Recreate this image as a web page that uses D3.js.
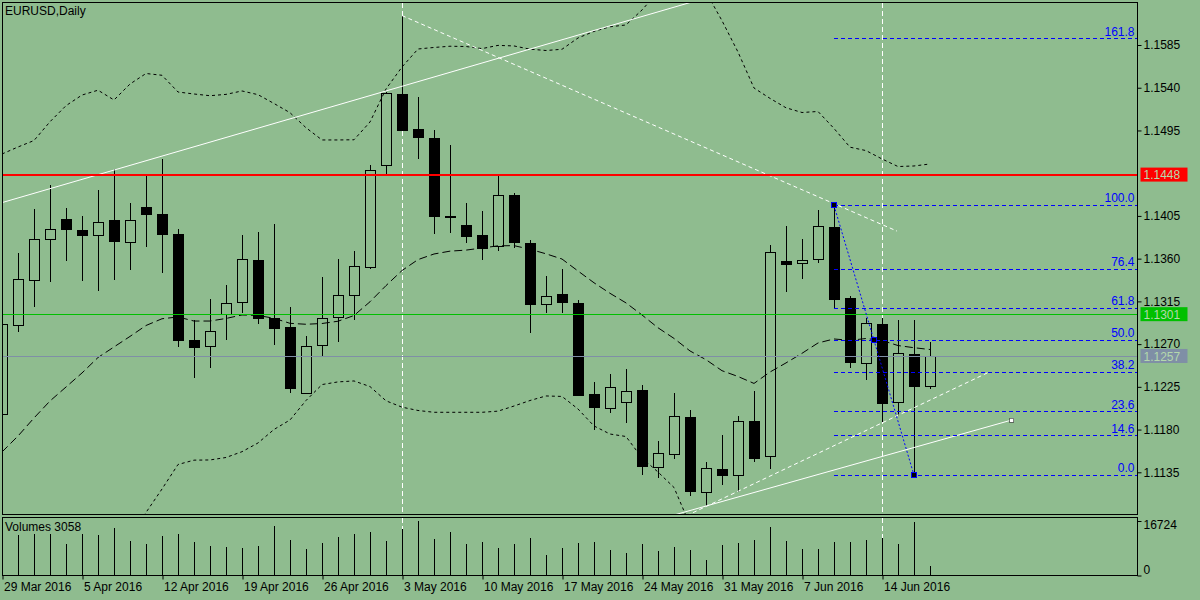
<!DOCTYPE html>
<html>
<head>
<meta charset="utf-8">
<script src="https://d3js.org/d3.v7.min.js"></script>
<style>
  body { margin: 0; background: #8fbc8f; }
  svg { display: block; font-family: "Liberation Sans", Arial, sans-serif; font-size: 12px; }
</style>
</head>
<body>
<div class="chart-container"></div>
<script>
// daily bars, 29 Mar - 17 Jun 2016
const dates = ["2016-03-29","2016-03-30","2016-03-31","2016-04-01","2016-04-04","2016-04-05","2016-04-06","2016-04-07","2016-04-08",
  "2016-04-11","2016-04-12","2016-04-13","2016-04-14","2016-04-15","2016-04-18","2016-04-19","2016-04-20","2016-04-21","2016-04-22",
  "2016-04-25","2016-04-26","2016-04-27","2016-04-28","2016-04-29","2016-05-02","2016-05-03","2016-05-04","2016-05-05","2016-05-06",
  "2016-05-09","2016-05-10","2016-05-11","2016-05-12","2016-05-13","2016-05-16","2016-05-17","2016-05-18","2016-05-19","2016-05-20",
  "2016-05-23","2016-05-24","2016-05-25","2016-05-26","2016-05-27","2016-05-30","2016-05-31","2016-06-01","2016-06-02","2016-06-03",
  "2016-06-06","2016-06-07","2016-06-08","2016-06-09","2016-06-10","2016-06-13","2016-06-14","2016-06-15","2016-06-16","2016-06-17"]

const open  = [1.1196,1.1290,1.1337,1.1380,1.1401,1.1390,1.1384,1.1400,1.1377,1.1414,1.1407,1.1385,1.1274,1.1268,1.1301,1.1314,1.1358,1.1297,1.1288,
  1.1218,1.1269,1.1298,1.1321,1.1351,1.1458,1.1533,1.1496,1.1487,1.1404,1.1395,1.1384,1.1373,1.1427,1.1376,1.1312,1.1322,1.1313,1.1217,1.1202,
  1.1209,1.1221,1.1140,1.1154,1.1193,1.1114,1.1138,1.1132,1.1188,1.1152,1.1357,1.1355,1.1359,1.1393,1.1318,1.1250,1.1291,1.1208,1.1259,1.1225]
const high  = [1.1297,1.1366,1.1412,1.1438,1.1413,1.1405,1.1432,1.1454,1.1419,1.1448,1.1465,1.1391,1.1295,1.1318,1.1332,1.1385,1.1388,1.1397,1.1309,
  1.1279,1.1341,1.1360,1.1368,1.1459,1.1536,1.1616,1.1530,1.1495,1.1480,1.1419,1.1410,1.1447,1.1429,1.1380,1.1342,1.1349,1.1316,1.1230,1.1238,
  1.1244,1.1227,1.1168,1.1218,1.1201,1.1146,1.1174,1.1194,1.1221,1.1374,1.1394,1.1381,1.1411,1.1416,1.1321,1.1297,1.1298,1.1295,1.1295,1.1272]
const low   = [1.1192,1.1283,1.1309,1.1335,1.1358,1.1336,1.1326,1.1338,1.1348,1.1372,1.1345,1.1267,1.1234,1.1245,1.1274,1.1303,1.1291,1.1269,1.1218,
  1.1217,1.1256,1.1272,1.1295,1.1349,1.1447,1.1494,1.1465,1.1386,1.1387,1.1376,1.1359,1.1368,1.1371,1.1282,1.1303,1.1303,1.1215,1.1180,1.1197,
  1.1187,1.1132,1.1129,1.1149,1.1110,1.1099,1.1122,1.1114,1.1146,1.1138,1.1325,1.1339,1.1355,1.1308,1.1245,1.1232,1.1188,1.1194,1.1132,1.1223]
const close = [1.1291,1.1338,1.1380,1.1391,1.1391,1.1384,1.1398,1.1378,1.1400,1.1407,1.1385,1.1274,1.1266,1.1283,1.1313,1.1359,1.1297,1.1286,1.1223,
  1.1268,1.1297,1.1321,1.1352,1.1453,1.1534,1.1495,1.1488,1.1404,1.1403,1.1383,1.1371,1.1426,1.1377,1.1312,1.1320,1.1314,1.1216,1.1203,1.1224,
  1.1220,1.1141,1.1155,1.1194,1.1115,1.1139,1.1132,1.1189,1.1150,1.1366,1.1354,1.1358,1.1394,1.1317,1.1251,1.1292,1.1207,1.1260,1.1225,1.1257]
const volume = [12500,12467,12771,12771,9731,12771,12467,14596,10643,9731,12163,12771,10339,9122,8818,8514,9122,15204,10947,8210,
  10035,11859,12771,13380,10643,14292,16724,11251,13380,9731,10339,8514,9731,11555,6386,8514,10035,10186,7906,6994,
  9731,7602,8818,7906,4865,9426,10035,10947,14900,10643,8210,8210,10339,10339,10947,11555,9731,16420,3058]

// bands (null = off the bottom)
const bandUpper = [1.14702,1.14776,1.14844,1.15042,1.15211,1.15323,1.15374,1.15271,1.15439,1.15550,1.15531,1.15355,1.15334,1.15316,1.15330,
  1.15366,1.15327,1.15234,1.15137,1.14979,1.14850,1.14850,1.14852,1.15039,1.15387,1.15618,1.15808,1.15824,1.15837,1.15834,1.15812,1.15846,
  1.15840,1.15806,1.15792,1.15805,1.15924,1.15993,1.16042,1.16061,1.16219,1.16408,1.16513,1.16513,1.16408,1.16106,1.15776,1.15397,1.15288,
  1.15189,1.15139,1.15150,1.14971,1.14774,1.14738,1.14650,1.14570,1.14576,1.14597]
const bandMiddle = [1.11564,1.11732,1.11922,1.12101,1.12248,1.12396,1.12559,1.12670,1.12781,1.12896,1.12967,1.12986,1.12943,1.12943,1.12970,
  1.13007,1.13002,1.12972,1.12919,1.12909,1.12917,1.12941,1.13001,1.13146,1.13316,1.13475,1.13590,1.13649,1.13679,1.13690,1.13712,1.13735,
  1.13737,1.13699,1.13651,1.13596,1.13470,1.13346,1.13235,1.13134,1.13007,1.12872,1.12760,1.12628,1.12536,1.12420,1.12359,1.12286,1.12406,
  1.12502,1.12603,1.12712,1.12754,1.12740,1.12759,1.12738,1.12685,1.12662,1.12643]
const bandLower = [null,null,null,null,null,null,null,null,1.10679,1.10927,1.11174,1.11432,1.11478,1.11480,1.11506,1.11567,1.11659,1.11801,
  1.11901,1.12106,1.12274,1.12302,1.12312,1.12253,1.12103,1.12036,1.12001,1.11982,1.11982,1.11982,1.11982,1.11994,1.12048,1.12106,1.12154,
  1.12149,1.12017,1.11838,1.11753,1.11727,1.11501,1.11353,1.11190,1.10795,null,null,null,null,null,null,null,null,null,null,null,null,null,null,null]

const priceTicks = [1.1585, 1.1540, 1.1495, 1.1405, 1.1360, 1.1315, 1.1270, 1.1225, 1.1180, 1.1135]
const dateTicks = [0, 5, 10, 15, 20, 25, 30, 35, 40, 45, 50, 55]
const fibLevels = [0, 14.6, 23.6, 38.2, 50, 61.8, 76.4, 100, 161.8]
const fibFrom = {bar: 52, price: 1.1416}
const fibTo = {bar: 57, price: 1.1132}
// horizontal lines: price, colour
const hLines = [{price: 1.1448, color: '#ff0000', w: 2}, {price: 1.1301, color: '#00c000', w: 1}, {price: 1.1257, color: '#7f8fa6', w: 1}]
// trend lines [bar, price] pairs
const trendUp = [[0, 1.1419], [40, 1.1615]]
const trendDown = [[25, 1.1616], [55.94, 1.1389]]
const trendLowDash = [[42, 1.1083], [61.75, 1.1241]]
const trendLowSolid = [[42, 1.1090], [63.1, 1.1190]]
const vLines = [25, 55]

const W = 1200, H = 600
const left = 2.5, right = 1137.5, mainTop = 2.5, mainBottom = 514.5, volTop = 517.5, volBottom = 575.5

svg = d3.select('.chart-container').append('svg').attr('width', W).attr('height', H)
svg.append('rect').attr('width', W).attr('height', H).attr('fill', '#8fbc8f')

const defs = svg.append('defs')
defs.append('clipPath').attr('id', 'clipMain').append('rect')
  .attr('x', left).attr('y', mainTop).attr('width', right - left).attr('height', mainBottom - mainTop)
defs.append('clipPath').attr('id', 'clipVol').append('rect')
  .attr('x', left).attr('y', volTop).attr('width', right - left).attr('height', volBottom - volTop)

// scales
x = d3.scaleLinear().domain([0, dates.length - 1]).range([2, 930])
y = d3.scaleLinear().domain([1.1135, 1.1585]).range([472.3, 45])
yv = d3.scaleLinear().domain([0, 16724]).range([volBottom, 521])

const idx = d3.range(dates.length)
const main = svg.append('g').attr('clip-path', 'url(#clipMain)').attr('shape-rendering', 'crispEdges')
const vol = svg.append('g').attr('clip-path', 'url(#clipVol)').attr('shape-rendering', 'crispEdges')

// vertical dashed separators
vLines.forEach(b => {
  main.append('line').attr('x1', x(b) + 0.5).attr('x2', x(b) + 0.5).attr('y1', mainTop).attr('y2', mainBottom)
    .attr('stroke', '#fff').attr('stroke-dasharray', '5,3')
  vol.append('line').attr('x1', x(b) + 0.5).attr('x2', x(b) + 0.5).attr('y1', volTop).attr('y2', volBottom)
    .attr('stroke', '#fff').attr('stroke-dasharray', '5,3')
})

// candles
main.selectAll('line.wick').data(idx).enter().append('line').attr('class', 'wick')
  .attr('x1', i => x(i) + 0.5).attr('x2', i => x(i) + 0.5)
  .attr('y1', i => y(high[i])).attr('y2', i => y(low[i]))
  .attr('stroke', '#000')
main.selectAll('rect.body').data(idx).enter().append('rect').attr('class', 'body')
  .attr('x', i => x(i) - 4.5).attr('width', 10)
  .attr('y', i => Math.min(y(open[i]), y(close[i])))
  .attr('height', i => Math.max(1, Math.abs(y(open[i]) - y(close[i]))))
  .attr('fill', i => close[i] >= open[i] ? '#8fbc8f' : '#000')
  .attr('stroke', '#000')

// bands
const bandLine = arr => d3.line().defined(i => arr[i] != null).x(i => x(i)).y(i => y(arr[i]))
main.append('path').attr('d', bandLine(bandUpper)(idx)).attr('fill', 'none').attr('stroke', '#000').attr('stroke-dasharray', '3,3').attr('shape-rendering', 'auto')
main.append('path').attr('d', bandLine(bandLower)(idx)).attr('fill', 'none').attr('stroke', '#000').attr('stroke-dasharray', '3,3').attr('shape-rendering', 'auto')
main.append('path').attr('d', bandLine(bandMiddle)(idx)).attr('fill', 'none').attr('stroke', '#000').attr('stroke-dasharray', '8,4').attr('shape-rendering', 'auto')

// trend lines, extended a little past their anchors where the chart shows them running off
function extend(pts, b0, b1) {
  const s = (pts[1][1] - pts[0][1]) / (pts[1][0] - pts[0][0])
  return [[b0, pts[0][1] + s * (b0 - pts[0][0])], [b1, pts[0][1] + s * (b1 - pts[0][0])]]
}
const seg = d3.line().x(d => x(d[0])).y(d => y(d[1]))
main.append('path').attr('d', seg(extend(trendUp, -1, 50))).attr('stroke', '#fff').attr('fill', 'none').attr('shape-rendering', 'auto')
main.append('path').attr('d', seg(trendDown)).attr('stroke', '#fff').attr('fill', 'none').attr('stroke-dasharray', '4,3').attr('shape-rendering', 'auto')
main.append('path').attr('d', seg(trendLowDash)).attr('stroke', '#fff').attr('fill', 'none').attr('stroke-dasharray', '4,3').attr('shape-rendering', 'auto')
main.append('path').attr('d', seg(trendLowSolid)).attr('stroke', '#fff').attr('fill', 'none').attr('shape-rendering', 'auto')
const endPt = trendLowSolid[1]
main.append('rect').attr('x', x(endPt[0]) - 2).attr('y', y(endPt[1]) - 2).attr('width', 4).attr('height', 4)
  .attr('fill', '#fff').attr('stroke', '#444').attr('stroke-width', 0.7)

// horizontal price lines
hLines.forEach(h => {
  main.append('line').attr('x1', left).attr('x2', right).attr('y1', y(h.price)).attr('y2', y(h.price))
    .attr('stroke', h.color).attr('stroke-width', h.w)
})

// fibonacci
const fibRange = fibFrom.price - fibTo.price
fibLevels.forEach(l => {
  const p = fibTo.price + fibRange * l / 100
  main.append('line').attr('x1', x(fibFrom.bar)).attr('x2', right).attr('y1', y(p)).attr('y2', y(p))
    .attr('stroke', '#0000ff').attr('stroke-dasharray', '4,3')
  main.append('text').attr('x', right - 3).attr('y', y(p) - 3).attr('text-anchor', 'end')
    .attr('fill', '#0000ff').text(d3.format('.1f')(l))
})
main.append('line').attr('x1', x(fibFrom.bar)).attr('y1', y(fibFrom.price)).attr('x2', x(fibTo.bar)).attr('y2', y(fibTo.price))
  .attr('stroke', '#0000ff').attr('stroke-dasharray', '2,2').attr('shape-rendering', 'auto')
const fibMarks = [[fibFrom.bar, fibFrom.price], [(fibFrom.bar + fibTo.bar) / 2, (fibFrom.price + fibTo.price) / 2], [fibTo.bar, fibTo.price]]
main.selectAll('rect.fibmark').data(fibMarks).enter().append('rect').attr('class', 'fibmark')
  .attr('x', d => x(d[0]) - 2.5).attr('y', d => y(d[1]) - 2.5).attr('width', 5).attr('height', 5)
  .attr('fill', '#000').attr('stroke', '#0000ff')

// volumes
vol.selectAll('line.v').data(idx).enter().append('line').attr('class', 'v')
  .attr('x1', i => x(i) + 0.5).attr('x2', i => x(i) + 0.5)
  .attr('y1', yv(0)).attr('y2', i => yv(volume[i]))
  .attr('stroke', '#000')

// frames
svg.append('rect').attr('x', left).attr('y', mainTop).attr('width', right - left).attr('height', mainBottom - mainTop)
  .attr('fill', 'none').attr('stroke', '#000').attr('shape-rendering', 'crispEdges')
svg.append('rect').attr('x', left).attr('y', volTop).attr('width', right - left).attr('height', volBottom - volTop)
  .attr('fill', 'none').attr('stroke', '#000').attr('shape-rendering', 'crispEdges')

// price axis
priceAxis = d3.axisRight(y).tickValues(priceTicks).tickSize(4).tickFormat(d3.format('.4f'))
pa = svg.append('g').attr('transform', `translate(${right},0)`).call(priceAxis)
pa.select('.domain').remove()
pa.attr('font-size', 12).attr('font-family', '"Liberation Sans", Arial, sans-serif')
pa.selectAll('text').attr('x', 6).attr('fill', '#000')

// price labels on the axis
hLines.forEach(h => {
  svg.append('rect').attr('x', right + 3).attr('y', y(h.price) - 7.5).attr('width', 47).attr('height', 14)
    .attr('fill', h.color)
  svg.append('text').attr('x', right + 6).attr('y', y(h.price)).attr('dy', '0.36em')
    .attr('fill', '#b4d8ac').text(d3.format('.4f')(h.price))
})

// volume axis
volAxis = d3.axisRight(yv).tickValues([0, 16724]).tickSize(4).tickFormat(d3.format('d'))
va = svg.append('g').attr('transform', `translate(${right},0)`).call(volAxis)
va.select('.domain').remove()
va.attr('font-size', 12).attr('font-family', '"Liberation Sans", Arial, sans-serif')
va.selectAll('text').attr('x', 6).attr('dy', d => d === 0 ? '-0.2em' : '0.6em')

// date axis
const fmt = d3.timeFormat('%-d %b %Y'), parse = d3.timeParse('%Y-%m-%d')
dateAxis = d3.axisBottom(x).tickValues(dateTicks).tickSize(4).tickFormat(i => fmt(parse(dates[i])))
da = svg.append('g').attr('transform', `translate(0.5,${volBottom})`).call(dateAxis)
da.select('.domain').remove()
da.attr('font-size', 12).attr('font-family', '"Liberation Sans", Arial, sans-serif')
da.selectAll('text').attr('text-anchor', 'start').attr('x', 1)

// titles
svg.append('text').attr('x', 5).attr('y', 15).text('EURUSD,Daily')
svg.append('text').attr('x', 5).attr('y', 531).text('Volumes ' + volume[volume.length - 1])
</script>
</body>
</html>
